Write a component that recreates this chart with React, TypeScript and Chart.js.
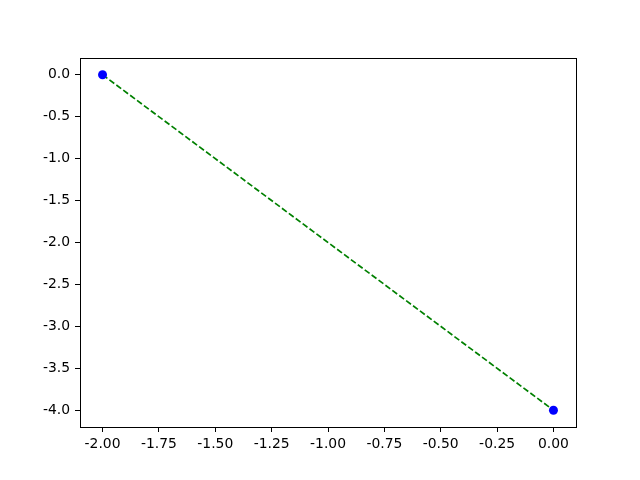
import React, { useEffect, useRef } from "react";
import { Chart, registerables } from "chart.js";

Chart.register(...registerables);

const xValues = [-2.0, 0.0];
const yValues = [0.0, -4.0];
const xTicks = [-2.0, -1.75, -1.5, -1.25, -1.0, -0.75, -0.5, -0.25, 0.0];
const yTicks = [0.0, -0.5, -1.0, -1.5, -2.0, -2.5, -3.0, -3.5, -4.0];
const xRange = [-2.1, 0.1];
const yRange = [-4.2, 0.2];

const framePlugin = {
  id: "frame",
  afterDraw(chart: any) {
    const { ctx, chartArea } = chart;
    ctx.save();
    ctx.strokeStyle = "#000";
    ctx.lineWidth = 1;
    ctx.strokeRect(
      Math.round(chartArea.left) + 0.5,
      Math.round(chartArea.top) + 0.5,
      Math.round(chartArea.right - chartArea.left),
      Math.round(chartArea.bottom - chartArea.top)
    );
    ctx.restore();
  },
};

export default function App() {
  const ref = useRef<HTMLCanvasElement | null>(null);
  useEffect(() => {
    if (!ref.current) return;
    const pts = xValues.map((x, i) => ({ x, y: yValues[i] }));
    const font = { family: "'DejaVu Sans'", size: 13.9 };
    const chart = new Chart(ref.current, {
      type: "scatter",
      data: {
        datasets: [
          {
            data: pts,
            showLine: true,
            borderColor: "#008000",
            borderWidth: 1.7,
            borderDash: [6, 2.6],
            pointRadius: 0,
            fill: false,
            order: 2,
          },
          {
            data: pts,
            showLine: false,
            pointRadius: 4.5,
            pointBackgroundColor: "#0000ff",
            pointBorderColor: "#0000ff",
            pointBorderWidth: 0,
            order: 1,
          },
        ],
      },
      options: {
        animation: false,
        responsive: false,
        layout: { padding: { left: 0, top: 58, right: 64, bottom: 0 } },
        plugins: { legend: { display: false }, tooltip: { enabled: false } },
        scales: {
          x: {
            type: "linear",
            min: xRange[0],
            max: xRange[1],
            afterFit: (s: any) => {
              s.height = 53;
            },
            afterBuildTicks: (s: any) => {
              s.ticks = xTicks.map((v) => ({ value: v }));
            },
            border: { display: false },
            grid: {
              display: true,
              drawOnChartArea: false,
              drawTicks: true,
              tickLength: 5,
              color: "#000",
              lineWidth: 1,
            },
            ticks: {
              color: "#000",
              font,
              padding: 4,
              maxRotation: 0,
              autoSkip: false,
              callback: (v: any) => Number(v).toFixed(2),
            },
          },
          y: {
            type: "linear",
            min: yRange[0],
            max: yRange[1],
            afterFit: (s: any) => {
              s.width = 80;
            },
            afterBuildTicks: (s: any) => {
              s.ticks = yTicks.map((v) => ({ value: v }));
            },
            border: { display: false },
            grid: {
              display: true,
              drawOnChartArea: false,
              drawTicks: true,
              tickLength: 5,
              color: "#000",
              lineWidth: 1,
            },
            ticks: {
              color: "#000",
              font,
              padding: 5,
              autoSkip: false,
              callback: (v: any) => Number(v).toFixed(1),
            },
          },
        },
      },
      plugins: [framePlugin],
    });
    return () => chart.destroy();
  }, []);
  return (
    <div style={{ position: "absolute", left: 0, top: 0, width: 640, height: 480, background: "#fff" }}>
      <canvas ref={ref} width={640} height={480} />
    </div>
  );
}
